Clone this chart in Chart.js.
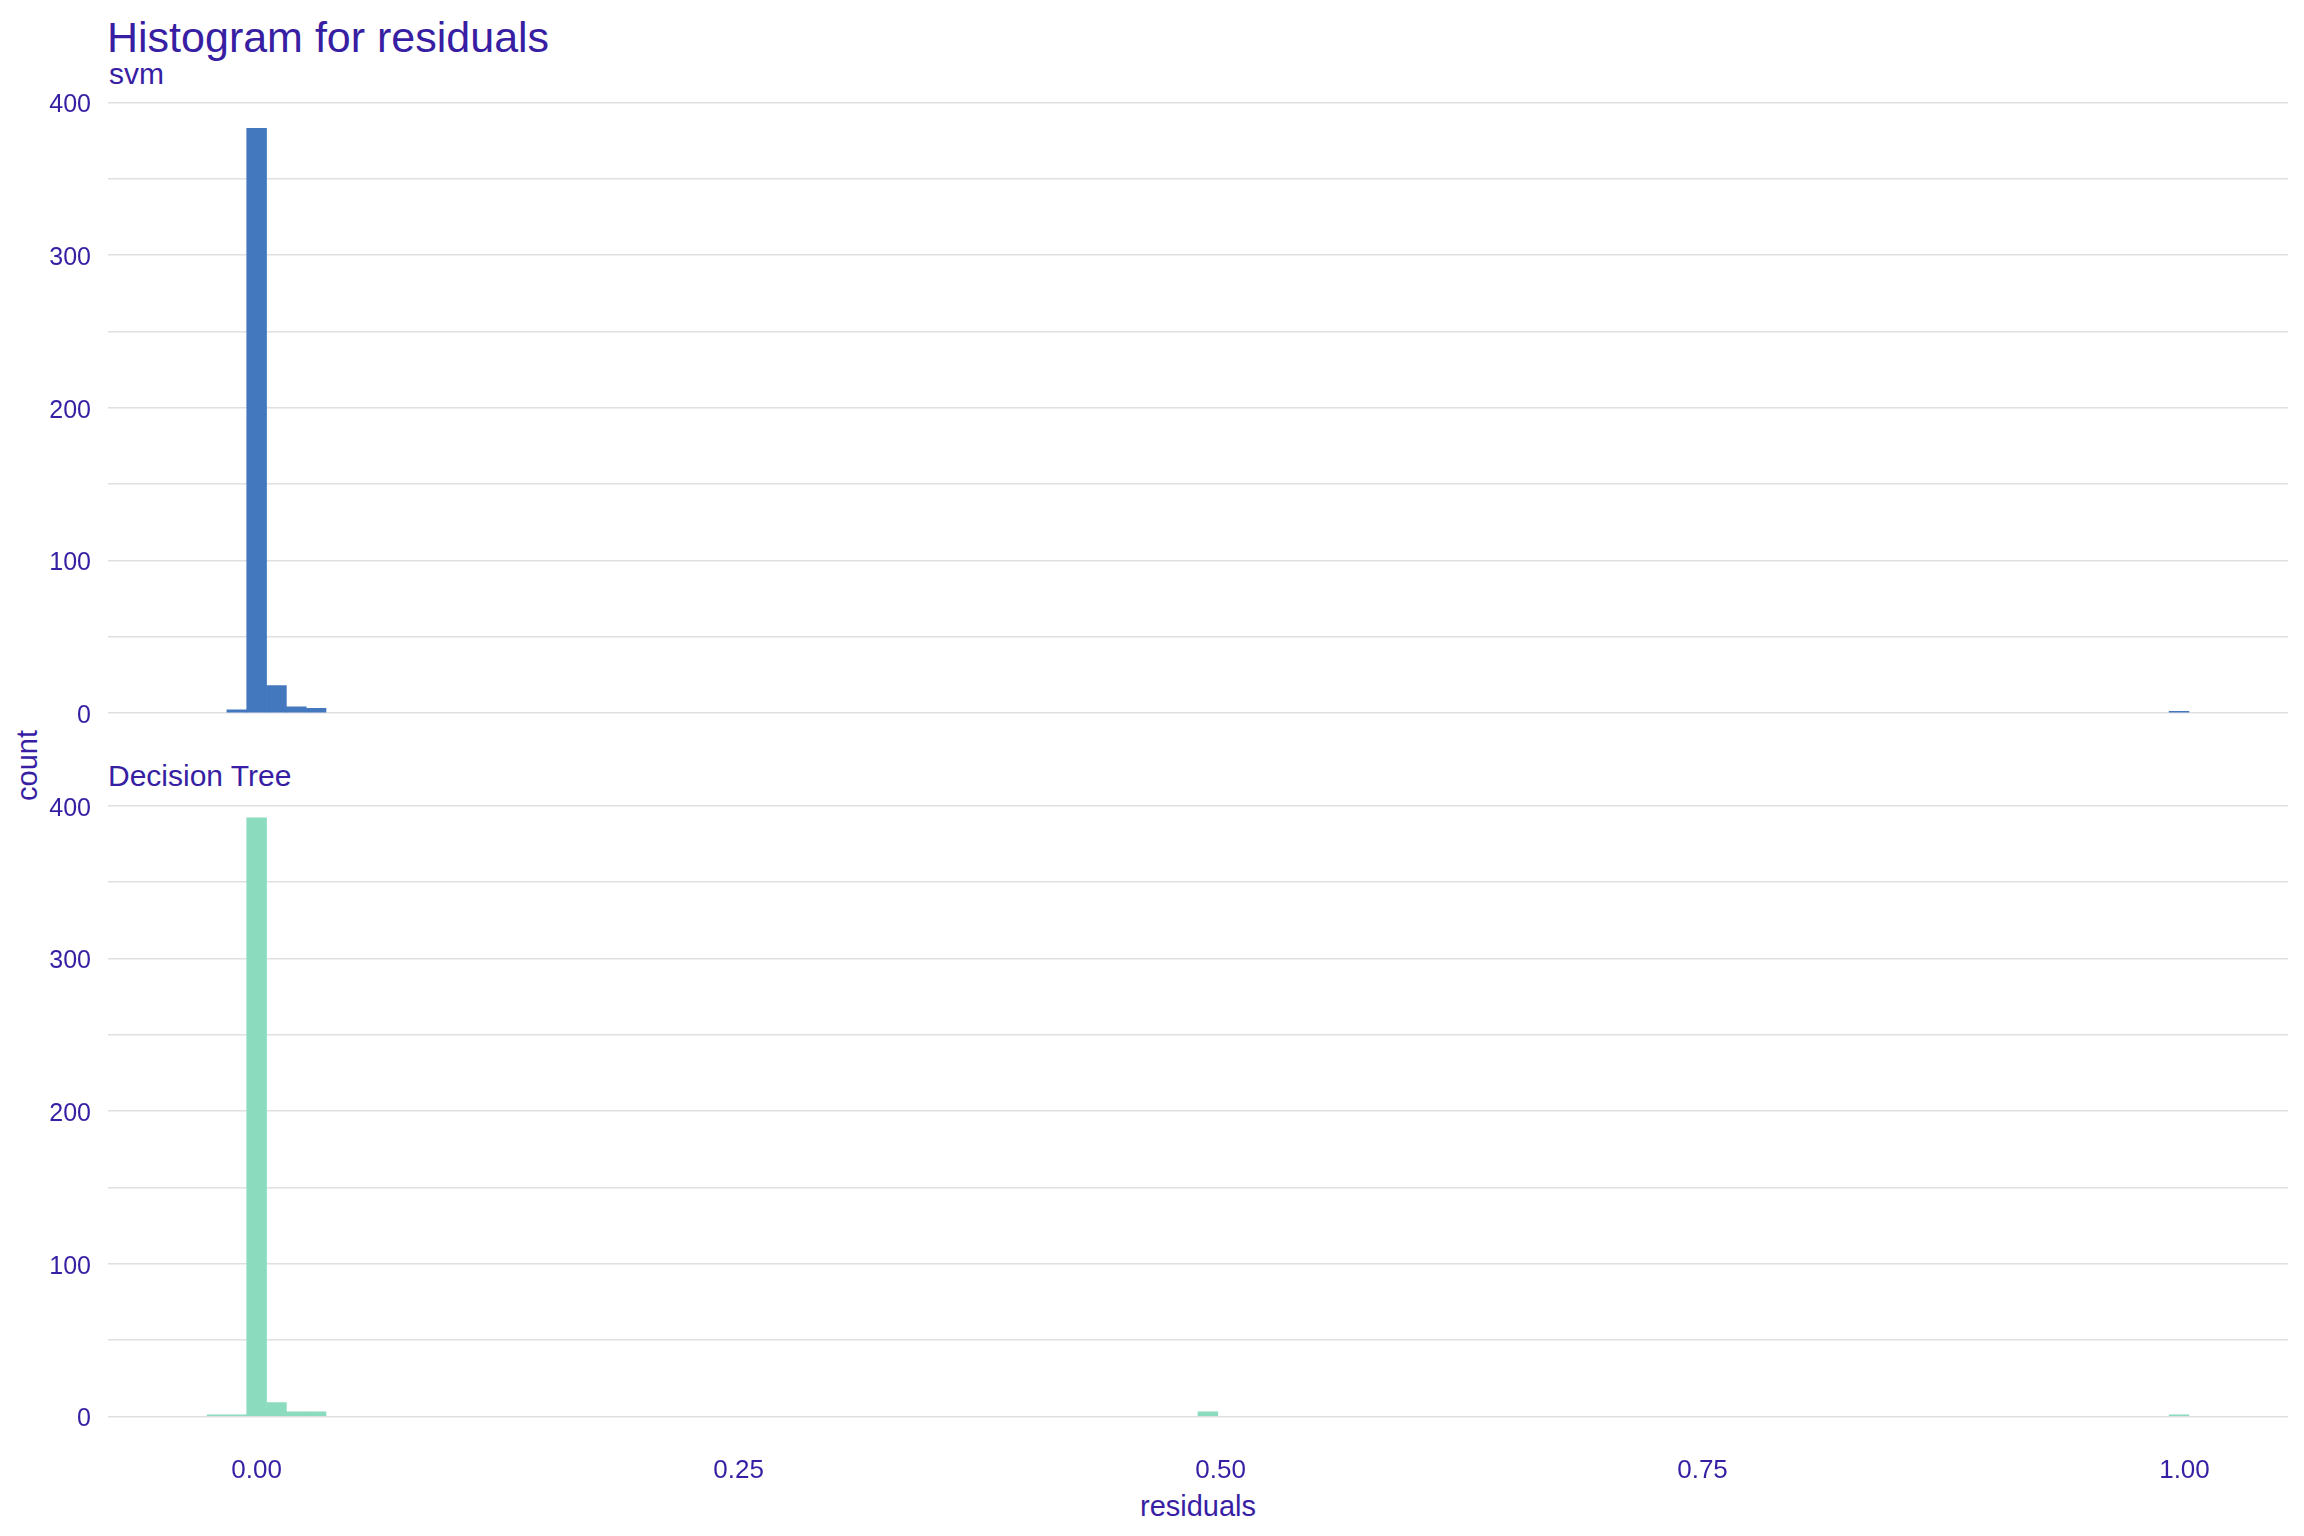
<!DOCTYPE html>
<html>
<head>
<meta charset="utf-8">
<script src="https://cdn.jsdelivr.net/npm/chart.js@4.4.1/dist/chart.umd.min.js"></script>
<style>
html,body{margin:0;padding:0;background:#fff;}
body{width:2304px;height:1536px;position:relative;overflow:hidden;font-family:"Liberation Sans",Arial,sans-serif;color:#371ea3;}
.t{position:absolute;white-space:nowrap;line-height:1;}
canvas{position:absolute;left:0;}
</style>
</head>
<body>
<div class="t" style="left:107px;top:15.5px;font-size:43px;">Histogram for residuals</div>
<div class="t" style="left:109px;top:59px;font-size:30px;">svm</div>
<div class="t" style="left:108px;top:760.6px;font-size:30px;">Decision Tree</div>
<div class="t" style="left:-73px;top:750.5px;width:200px;text-align:center;font-size:29px;transform:rotate(-90deg);">count</div>
<div class="t" style="left:1098px;top:1491.5px;width:200px;text-align:center;font-size:29px;">residuals</div>
<canvas id="c1" width="2304" height="790" style="top:0;width:2304px;height:790px;"></canvas>
<canvas id="c2" width="2304" height="836" style="top:700px;width:2304px;height:836px;"></canvas>
<script>
// ---- data ----
const binStart = -0.0257;   // left edge of first histogram bin (residual units)
const binWidth = 0.01028;   // histogram bin width
const svmCounts = [
  0,2,383,18,4,3,0,0,0,0,
  0,0,0,0,0,0,0,0,0,0,
  0,0,0,0,0,0,0,0,0,0,
  0,0,0,0,0,0,0,0,0,0,
  0,0,0,0,0,0,0,0,0,0,
  0,0,0,0,0,0,0,0,0,0,
  0,0,0,0,0,0,0,0,0,0,
  0,0,0,0,0,0,0,0,0,0,
  0,0,0,0,0,0,0,0,0,0,
  0,0,0,0,0,0,0,0,0,1
];
const treeCounts = [
  1,1,392,9,3,3,0,0,0,0,
  0,0,0,0,0,0,0,0,0,0,
  0,0,0,0,0,0,0,0,0,0,
  0,0,0,0,0,0,0,0,0,0,
  0,0,0,0,0,0,0,0,0,0,
  3,0,0,0,0,0,0,0,0,0,
  0,0,0,0,0,0,0,0,0,0,
  0,0,0,0,0,0,0,0,0,0,
  0,0,0,0,0,0,0,0,0,0,
  0,0,0,0,0,0,0,0,0,1
];
const xTickValues = [0, 0.25, 0.5, 0.75, 1.0];
const yGridValues = [0,50,100,150,200,250,300,350,400];
const yLabelValues = [0,100,200,300,400];

// ---- styling ----
const TEXT = '#371ea3';
const GRID = '#e0e0e0';
const FONT = '"Liberation Sans", Arial, sans-serif';

const nBins = svmCounts.length;
const binEnd = binStart + nBins * binWidth;
const span = binEnd - binStart;
const xMin = binStart - 0.05 * span;
const xMax = binEnd + 0.05 * span;
const allMax = Math.max(...svmCounts, ...treeCounts);
const yMin = -0.05 * allMax;
const yMax = allMax * 1.05;

function toPoints(counts){
  // empty bins are not drawn
  return counts.map((c,i)=>({x: binStart + (i + 0.5) * binWidth, y: c === 0 ? null : c}));
}

function makeChart(id, counts, color, showX, padTop, padBottom, xAxisHeight){
  return new Chart(document.getElementById(id), {
    type: 'bar',
    data: { datasets: [{ data: toPoints(counts), backgroundColor: color, borderWidth: 0,
      barPercentage: 1, categoryPercentage: 1 }] },
    options: {
      responsive: false, animation: false, devicePixelRatio: 1,
      layout: { padding: { left: 0, right: 16, top: padTop, bottom: padBottom } },
      plugins: { legend: { display: false }, tooltip: { enabled: false } },
      scales: {
        x: {
          type: 'linear', min: xMin, max: xMax, offset: false, display: showX,
          grid: { display: false, drawTicks: false },
          border: { display: false },
          afterBuildTicks: (axis) => { axis.ticks = xTickValues.map(v => ({value: v})); },
          afterFit: (axis) => { if (xAxisHeight) axis.height = xAxisHeight; },
          ticks: { color: TEXT, font: { family: FONT, size: 26 }, padding: 9,
            autoSkip: false, maxRotation: 0,
            callback: (v) => Number(v).toFixed(2) }
        },
        y: {
          min: yMin, max: yMax,
          grid: { color: GRID, lineWidth: 1.6, drawTicks: false },
          border: { display: false },
          afterBuildTicks: (axis) => { axis.ticks = yGridValues.map(v => ({value: v})); },
          afterFit: (axis) => { axis.width = 108; },
          ticks: { color: TEXT, font: { family: FONT, size: 25 }, padding: 17, labelOffset: 3,
            callback: (v) => yLabelValues.includes(v) ? String(v) : '' }
        }
      }
    }
  });
}

makeChart('c1', svmCounts, '#4378bf', false, 84.6, 47.1, 0);
makeChart('c2', treeCounts, '#8bdcbe', true, 88, 0, 89.7);
</script>
</body>
</html>
